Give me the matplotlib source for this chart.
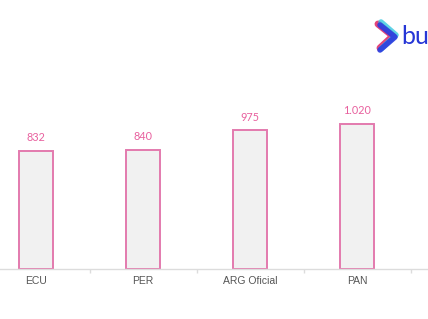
import matplotlib
matplotlib.use("Agg")
import matplotlib.pyplot as plt
from matplotlib.lines import Line2D

categories = ["ECU", "PER", "ARG Oficial", "PAN"]
values = [832, 840, 975, 1020]
value_labels = ["832", "840", "975", "1.020"]

W, H = 428, 319
fig = plt.figure(figsize=(W / 100, H / 100), dpi=100)
ax = fig.add_axes([0, 50 / H, 1, 1 - 50 / H])

x = list(range(len(categories)))
ax.bar(x, values, width=0.32, color="#f1f1f1", edgecolor="#e37aae", linewidth=1.4, zorder=2)

for xi, v, lab in zip(x, values, value_labels):
    ax.annotate(lab, (xi, v), xytext=(0, 9.5), textcoords="offset points",
                ha="center", va="center", fontsize=7.8, color="#e8609e",
                family="Lato")

for s in ["top", "right", "left"]:
    ax.spines[s].set_visible(False)
ax.spines["bottom"].set_color("#dcdcdc")
ax.spines["bottom"].set_linewidth(1.0)
ax.set_yticks([])
ax.set_xticks(x)
ax.set_xticklabels(categories, fontsize=7.5, color="#555555", family="Liberation Sans")
ax.set_xticks([i + 0.5 for i in range(-1, len(categories))], minor=True)
ax.tick_params(axis="x", which="major", length=0, pad=5)
ax.tick_params(axis="x", which="minor", length=3, color="#dcdcdc", width=1)
ax.set_xlim(-36 / 107, (428 - 36) / 107)
ax.set_ylim(0, 1892)

# logo
def fx(px):
    return px / W
def fy(py):
    return 1 - py / H
fig.add_artist(Line2D([fx(378), fx(393), fx(380)], [fy(24), fy(36), fy(48)],
                      color="#e0306a", linewidth=5, solid_capstyle="round",
                      solid_joinstyle="round", alpha=0.9))
fig.add_artist(Line2D([fx(381), fx(396), fx(381)], [fy(22), fy(35), fy(49)],
                      color="#36c8e0", linewidth=4, solid_capstyle="round",
                      solid_joinstyle="round", alpha=0.8))
fig.add_artist(Line2D([fx(380), fx(395), fx(380)], [fy(25), fy(37), fy(50)],
                      color="#2b3be0", linewidth=4, solid_capstyle="round",
                      solid_joinstyle="round", alpha=0.9))
fig.text(fx(401), fy(36), "bu", fontsize=18, color="#2636d6", va="center", ha="left",
         family="Lato")

fig.savefig("out.png", dpi=100, facecolor="white")
